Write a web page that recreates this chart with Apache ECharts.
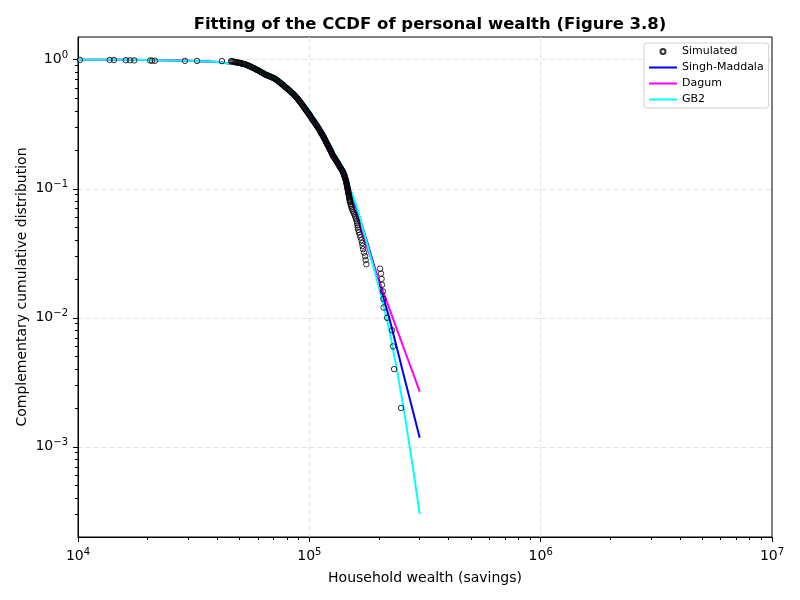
<!DOCTYPE html>
<html>
<head>
<meta charset="utf-8">
<title>Fitting of the CCDF of personal wealth</title>
<script src="https://cdn.jsdelivr.net/npm/echarts@6/dist/echarts.min.js"></script>
<style>
html, body { margin: 0; padding: 0; background: #fff; }
#chart { width: 800px; height: 600px; }
</style>
</head>
<body>
<div id="chart"></div>
<script>
var simWealth = [
	10200, 13700, 14300, 16100, 16800, 17500, 20500, 20900, 21500, 29000, 32700, 41900, 45900,
	46300, 46800, 47300, 47800, 48300, 48800, 49300, 49700, 50200, 50700, 51200, 51700, 52200,
	52700, 53200, 53700, 54200, 54700, 55200, 55700, 56200, 56700, 57200, 57700,
	58200, 58700, 59200, 59700, 60300, 60800, 61300, 61800, 62300, 62800, 63300, 63800,
	64400, 65000, 65600, 66200, 66800, 67400, 68000, 68600, 69300, 69900, 70500,
	71100, 71700, 72200, 72800, 73400, 73900, 74500, 75100, 75600, 76200, 76800, 77400, 77900,
	78500, 79100, 79800, 80400, 81000, 81700, 82300, 83000, 83600, 84200, 84900, 85500, 86100,
	86800, 87300, 87900, 88400, 89000, 89600, 90100, 90700, 91300, 91800, 92400, 93000, 93500, 94100, 94700, 95200,
	95800, 96400, 96900, 97500, 98100, 98700, 99300, 99800, 100400, 101000, 101600, 102100,
	102700, 103300, 103900, 104500, 105100, 105700, 106300, 107000, 107600, 108200, 108800, 109400, 110000, 110600,
	111200, 111700, 112300, 112800, 113400, 113900, 114500, 115000, 115500, 116100, 116600, 117200, 117700, 118200, 118800,
	119300, 119900, 120400, 121000, 121500, 122100, 122700, 123200, 123800, 124300, 124900, 125500, 126000,
	126600, 127300, 128000, 128700, 129400, 130100, 130800, 131500, 132200, 132900, 133600, 134300, 135000,
	135700, 136400, 137100, 137800, 138500, 139200,
	139900, 140300, 140700, 141200, 141600, 142000, 142400, 142800, 143300, 143700,
	144100, 144400, 144700, 145000, 145300, 145600, 145800, 146100, 146400, 146700,
	147000, 147300, 147500, 147800, 148100, 148400, 148600, 148900, 149200, 149500, 149700, 150000,
	150900, 151500, 152200, 152800, 153900, 155000, 156200, 157300, 158300, 159400,
	160400, 161100, 161600, 162100, 162800, 163900, 165100, 166400, 167900, 169200,
	169900, 170700, 172400, 174100, 175200, 176400,
	202200, 204200, 205200, 206200, 208000, 209000, 209500, 216700, 227800, 230100, 232400, 249200
];
var simCcdf = [
	0.998, 0.996, 0.994, 0.992, 0.990, 0.988, 0.986, 0.984, 0.982, 0.980, 0.978, 0.976, 0.974,
	0.972, 0.968, 0.964, 0.961, 0.957, 0.953, 0.949, 0.945, 0.942, 0.938, 0.934, 0.930, 0.927,
	0.923, 0.916, 0.910, 0.903, 0.897, 0.890, 0.884, 0.877, 0.871, 0.864, 0.858,
	0.851, 0.844, 0.837, 0.831, 0.824, 0.817, 0.810, 0.803, 0.796, 0.790, 0.783, 0.776,
	0.769, 0.764, 0.759, 0.753, 0.748, 0.743, 0.738, 0.733, 0.728, 0.722, 0.717,
	0.712, 0.705, 0.697, 0.690, 0.683, 0.675, 0.668, 0.661, 0.654, 0.646, 0.639, 0.632, 0.624,
	0.617, 0.610, 0.603, 0.596, 0.589, 0.582, 0.574, 0.567, 0.560, 0.553, 0.546, 0.539, 0.532,
	0.525, 0.518, 0.511, 0.505, 0.498, 0.491, 0.484, 0.477, 0.470, 0.464, 0.457, 0.450, 0.443, 0.436, 0.430, 0.423,
	0.416, 0.410, 0.405, 0.399, 0.393, 0.388, 0.382, 0.376, 0.371, 0.365, 0.359, 0.354,
	0.348, 0.343, 0.338, 0.334, 0.329, 0.324, 0.319, 0.314, 0.310, 0.305, 0.300, 0.295, 0.291, 0.286,
	0.281, 0.277, 0.273, 0.269, 0.265, 0.261, 0.258, 0.254, 0.250, 0.246, 0.242, 0.238, 0.234, 0.230, 0.226,
	0.2225, 0.219, 0.216, 0.213, 0.209, 0.206, 0.203, 0.199, 0.196, 0.193, 0.189, 0.186, 0.183,
	0.1795, 0.177, 0.175, 0.172, 0.170, 0.167, 0.165, 0.162, 0.160, 0.157, 0.155, 0.152, 0.150,
	0.1475, 0.1454, 0.1433, 0.1412, 0.1391, 0.1370,
	0.1349, 0.1329, 0.1309, 0.1289, 0.1269, 0.1249, 0.1228, 0.1208, 0.1188, 0.1168,
	0.1148, 0.1129, 0.1110, 0.1092, 0.1073, 0.1054, 0.1035, 0.1016, 0.0998, 0.0979,
	0.0960, 0.0944, 0.0929, 0.0913, 0.0897, 0.0882, 0.0866, 0.0851, 0.0835, 0.0819, 0.0804, 0.0788,
	0.076, 0.074, 0.072, 0.070, 0.068, 0.066, 0.064, 0.062, 0.060, 0.058,
	0.056, 0.054, 0.052, 0.050, 0.048, 0.046, 0.044, 0.042, 0.040, 0.038,
	0.036, 0.034, 0.032, 0.030, 0.028, 0.026,
	0.024, 0.022, 0.020, 0.018, 0.016, 0.014, 0.012, 0.010, 0.008, 0.006, 0.004, 0.002
];

// fitted CCDFs on a common wealth grid
var fitWealth = [10000, 15000, 20000, 30000, 40000, 50000, 60000, 70000, 80000, 90000, 100000,
	120000, 140000, 160000, 180000, 200000, 220000, 240000, 260000, 280000, 300000];
var singhMaddala = [0.999, 0.998, 0.993, 0.982, 0.96, 0.915, 0.835, 0.725, 0.603, 0.505, 0.4015,
	0.2265, 0.1372, 0.0708, 0.0359, 0.01884, 0.01044, 0.00568, 0.003205, 0.001908, 0.001177];
var dagum = [0.999, 0.998, 0.993, 0.982, 0.96, 0.915, 0.835, 0.724, 0.600, 0.500, 0.394,
	0.2146, 0.1278, 0.0614, 0.0328, 0.01953, 0.01227, 0.00798, 0.00538, 0.003765, 0.00268];
var gb2 = [0.999, 0.998, 0.993, 0.982, 0.96, 0.915, 0.835, 0.725, 0.605, 0.507, 0.409,
	0.2348, 0.1422, 0.0734, 0.0346, 0.01722, 0.00857, 0.00383, 0.001653, 0.000700, 0.000302];

var xTicks = [1e4, 1e5, 1e6, 1e7];
var yTicks = [1e-3, 1e-2, 1e-1, 1];
var xGrid = [1e5, 1e6];

var FONT = 'DejaVu Sans';

function minorTicks(lo, hi) {
	var out = [];
	for (var e = Math.floor(Math.log10(lo)); e < Math.ceil(Math.log10(hi)); e++) {
		for (var k = 2; k <= 9; k++) {
			var v = k * Math.pow(10, e);
			if (v > lo * 1.01 && v < hi) out.push(v);
		}
	}
	return out;
}

function powLabel(v) {
	var e = Math.round(Math.log10(v));
	return '{b|10}{e|' + (e < 0 ? '\u2212' + (-e) : e) + '}';
}

var labelRich = {
	b: { fontSize: 14, fontFamily: FONT, color: '#000', lineHeight: 18 },
	e: { fontSize: 10, fontFamily: FONT, color: '#000', lineHeight: 8, verticalAlign: 'top' }
};

function pairs(xs, ys) {
	return xs.map(function (x, i) { return [x, ys[i]]; });
}

function fitLine(name, color, ys) {
	return {
		type: 'line',
		name: name,
		data: pairs(fitWealth, ys),
		symbol: 'none',
		lineStyle: { color: color, width: 2 },
		itemStyle: { color: color },
		z: 2
	};
}

var xMin = 1e4, xMax = 1e7, yMin = 2e-4, yMax = 1.5;
var axisBlack = { show: true, lineStyle: { color: '#000', width: 1 } };
var gridDash = { show: true, lineStyle: { color: '#e3e3e3', width: 1, type: [5, 3] } };
var tickBlack = { color: '#000', width: 1 };

var chart = echarts.init(document.getElementById('chart'), null, { renderer: 'canvas' });
chart.setOption({
	animation: false,
	backgroundColor: '#fff',
	title: {
		text: 'Fitting of the CCDF of personal wealth (Figure 3.8)',
		left: 425,
		textAlign: 'center',
		top: 11,
		textStyle: { fontFamily: FONT, fontSize: 16.5, fontWeight: 'bold', color: '#000' }
	},
	legend: {
		orient: 'vertical',
		left: 644,
		top: 43,
		padding: [3, 5, 3, 4],
		itemWidth: 28,
		itemHeight: 5,
		itemGap: 5,
		borderColor: '#d0d0d0',
		borderWidth: 1,
		borderRadius: 3,
		backgroundColor: 'rgba(255,255,255,0.8)',
		textStyle: { fontFamily: FONT, fontSize: 11, color: '#000' },
		data: [
			{ name: 'Simulated' },
			{ name: 'Singh-Maddala', itemStyle: { opacity: 0 } },
			{ name: 'Dagum', itemStyle: { opacity: 0 } },
			{ name: 'GB2', itemStyle: { opacity: 0 } }
		]
	},
	grid: {
		left: 78, right: 28, top: 37, bottom: 63,
		outerBoundsMode: 'none',
		show: true, borderColor: '#000', borderWidth: 1
	},
	xAxis: [
		{
			type: 'log', logBase: 10, min: xMin, max: xMax, position: 'bottom',
			name: 'Household wealth (savings)',
			nameLocation: 'middle', nameGap: 34,
			nameTextStyle: { fontFamily: FONT, fontSize: 14, color: '#000' },
			axisLine: axisBlack,
			axisTick: { show: true, length: 5, customValues: xTicks, lineStyle: tickBlack },
			axisLabel: { customValues: xTicks, formatter: powLabel, margin: 10, rich: labelRich },
			splitLine: { show: false },
			minorTick: { show: false }
		},
		{
			type: 'log', logBase: 10, min: xMin, max: xMax, position: 'bottom',
			axisLine: { show: false },
			axisTick: { show: true, length: 3, customValues: minorTicks(xMin, xMax), lineStyle: tickBlack },
			axisLabel: { show: false },
			splitLine: { show: false }
		},
		{
			// only carries the vertical grid lines inside the box
			type: 'log', logBase: 10, min: xMin, max: xMax, position: 'bottom',
			axisLine: { show: false },
			axisTick: { show: false, customValues: xGrid },
			axisLabel: { show: false },
			splitLine: gridDash
		}
	],
	yAxis: [
		{
			type: 'log', logBase: 10, min: yMin, max: yMax, position: 'left',
			name: 'Complementary cumulative distribution',
			nameLocation: 'middle', nameGap: 49,
			nameMoveOverlap: false,
			nameTextStyle: { fontFamily: FONT, fontSize: 14, color: '#000' },
			axisLine: axisBlack,
			axisTick: { show: true, length: 5, customValues: yTicks, lineStyle: tickBlack },
			axisLabel: { customValues: yTicks, formatter: powLabel, margin: 10, rich: labelRich },
			splitLine: gridDash,
			minorTick: { show: false }
		},
		{
			type: 'log', logBase: 10, min: yMin, max: yMax, position: 'left',
			axisLine: { show: false },
			axisTick: { show: true, length: 3, customValues: minorTicks(yMin, yMax), lineStyle: tickBlack },
			axisLabel: { show: false },
			splitLine: { show: false }
		}
	],
	series: [
		{
			type: 'scatter',
			name: 'Simulated',
			data: pairs(simWealth, simCcdf),
			symbol: 'circle',
			symbolSize: 5.5,
			itemStyle: { color: 'rgba(0,0,0,0)', borderColor: '#000', borderWidth: 1 },
			z: 3
		},
		fitLine('Singh-Maddala', '#0000ff', singhMaddala),
		fitLine('Dagum', '#ff00ff', dagum),
		fitLine('GB2', '#00ffff', gb2)
	]
});
</script>
</body>
</html>
